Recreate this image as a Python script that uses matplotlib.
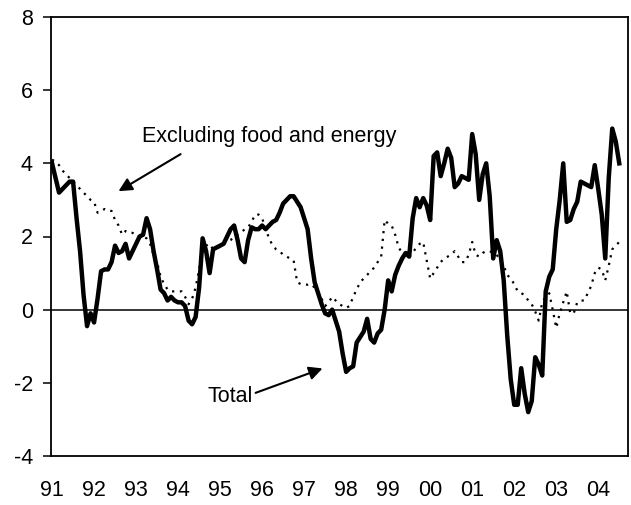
import matplotlib
matplotlib.use("Agg")
import matplotlib.pyplot as plt
import numpy as np

plt.rcParams['font.family'] = ['Liberation Sans', 'DejaVu Sans']
plt.rcParams['axes.unicode_minus'] = False

# monthly, Jan 1991 .. Jul 2004
total = [4.0, 3.6, 3.2, 3.3, 3.4, 3.5, 3.5, 2.5, 1.6, 0.4,
         -0.45, -0.1, -0.35, 0.3, 1.05, 1.1, 1.1, 1.3, 1.75, 1.55,
         1.6, 1.8, 1.4, 1.6, 1.8, 2.0, 2.05, 2.5, 2.2, 1.6,
         1.1, 0.55, 0.45, 0.25, 0.35, 0.25, 0.2, 0.2, 0.1, -0.3,
         -0.4, -0.2, 0.6, 1.95, 1.6, 1.0, 1.65, 1.7, 1.75, 1.8,
         2.0, 2.2, 2.3, 1.9, 1.4, 1.3, 1.9, 2.25, 2.2, 2.2,
         2.3, 2.2, 2.3, 2.4, 2.45, 2.65, 2.9, 3.0, 3.1, 3.1,
         2.95, 2.8, 2.5, 2.2, 1.4, 0.75, 0.45, 0.15, -0.1, -0.15,
         0.0, -0.3, -0.6, -1.2, -1.7, -1.6, -1.55, -0.9, -0.75, -0.6,
         -0.25, -0.8, -0.9, -0.65, -0.55, 0.0, 0.8, 0.5, 0.95, 1.2,
         1.4, 1.55, 1.45, 2.5, 3.05, 2.8, 3.05, 2.85, 2.45, 4.2,
         4.3, 3.65, 4.0, 4.4, 4.15, 3.35, 3.45, 3.65, 3.6, 3.55,
         4.8, 4.25, 3.0, 3.7, 4.0, 3.1, 1.4, 1.9, 1.6, 0.8,
         -0.7, -1.9, -2.6, -2.6, -1.6, -2.3, -2.8, -2.5, -1.3, -1.5,
         -1.8, 0.5, 0.9, 1.1, 2.2, 3.0, 4.0, 2.4, 2.45, 2.75,
         2.95, 3.5, 3.45, 3.4, 3.35, 3.95, 3.3, 2.6, 1.4, 3.6,
         4.95, 4.6, 4.0]

core = [4.1, 4.05, 3.95, 3.8, 3.7, 3.6, 3.5, 3.4, 3.3, 3.2,
        3.1, 3.0, 2.95, 2.65, 2.7, 2.75, 2.7, 2.7, 2.45, 2.3,
        2.05, 2.15, 2.1, 2.1, 2.0, 2.0, 2.0, 1.95, 1.8, 1.5,
        1.3, 0.9, 0.7, 0.55, 0.5, 0.5, 0.5, 0.5, 0.35, 0.15,
        0.3, 0.6, 1.1, 1.6, 1.75, 1.8, 1.65, 1.65, 1.75, 1.8,
        1.85, 1.9, 2.0, 2.05, 2.1, 2.2, 2.25, 2.4, 2.6, 2.6,
        2.5, 2.2, 1.95, 1.75, 1.65, 1.6, 1.5, 1.45, 1.4, 1.35,
        0.75, 0.7, 0.7, 0.68, 0.7, 0.6, 0.45, 0.3, 0.1, 0.2,
        0.35, 0.25, 0.15, 0.1, 0.05, 0.1, 0.35, 0.55, 0.75, 0.85,
        0.95, 1.05, 1.15, 1.3, 1.45, 2.45, 2.35, 2.3, 2.05, 1.7,
        1.55, 1.4, 1.45, 1.55, 1.7, 1.8, 1.85, 1.35, 0.85, 1.0,
        1.15, 1.3, 1.4, 1.45, 1.5, 1.6, 1.45, 1.3, 1.3, 1.5,
        1.85, 1.5, 1.45, 1.55, 1.6, 1.6, 1.55, 1.5, 1.35, 1.2,
        0.95, 0.85, 0.7, 0.5, 0.45, 0.4, 0.25, 0.15, -0.05, -0.3,
        0.2, 0.35, 0.45, 0.0, -0.5, -0.1, 0.2, 0.5, -0.1, -0.1,
        0.2, 0.25, 0.25, 0.45, 0.65, 1.0, 1.15, 1.1, 0.8, 1.2,
        1.65, 1.75, 1.85]

years = ['91', '92', '93', '94', '95', '96', '97', '98', '99', '00',
         '01', '02', '03', '04']

months = np.arange(len(total))

fig = plt.figure(figsize=(6.31, 5.05), dpi=100)
ax = fig.add_axes([51/631, 1 - 456/505, 577/631, 439/505])

ax.axhline(0, color='black', lw=1.1, zorder=1)
ax.plot(months, core, color='black', lw=1.6, linestyle=(0, (1, 2.5)), zorder=2)
ax.plot(months, total, color='black', lw=3.2, solid_joinstyle='round', zorder=3)

ax.set_xlim(-0.3, 164.5)
ax.set_ylim(-4, 8)
ax.set_yticks(range(-4, 9, 2))
ax.set_xticks(np.arange(len(years)) * 12)
ax.set_xticklabels(years)

ax.tick_params(axis='y', direction='out', length=6, width=1.1, pad=7, labelsize=15.5)
ax.tick_params(axis='x', length=0, pad=17, labelsize=15.5)
for s in ax.spines.values():
    s.set_linewidth(1.3)

# annotations
ax.text(25.7, 4.72, 'Excluding food and energy', fontsize=15.5, va='center', ha='left')
ax.annotate('', xy=(18.3, 3.2), xytext=(37.4, 4.29),
            arrowprops=dict(arrowstyle='-|>', color='black', lw=1.5, mutation_scale=20))
ax.text(44.3, -2.38, 'Total', fontsize=15.5, va='center', ha='left')
ax.annotate('', xy=(78, -1.58), xytext=(57.4, -2.3),
            arrowprops=dict(arrowstyle='-|>', color='black', lw=1.5, mutation_scale=20))

fig.savefig('out.png', dpi=100)
